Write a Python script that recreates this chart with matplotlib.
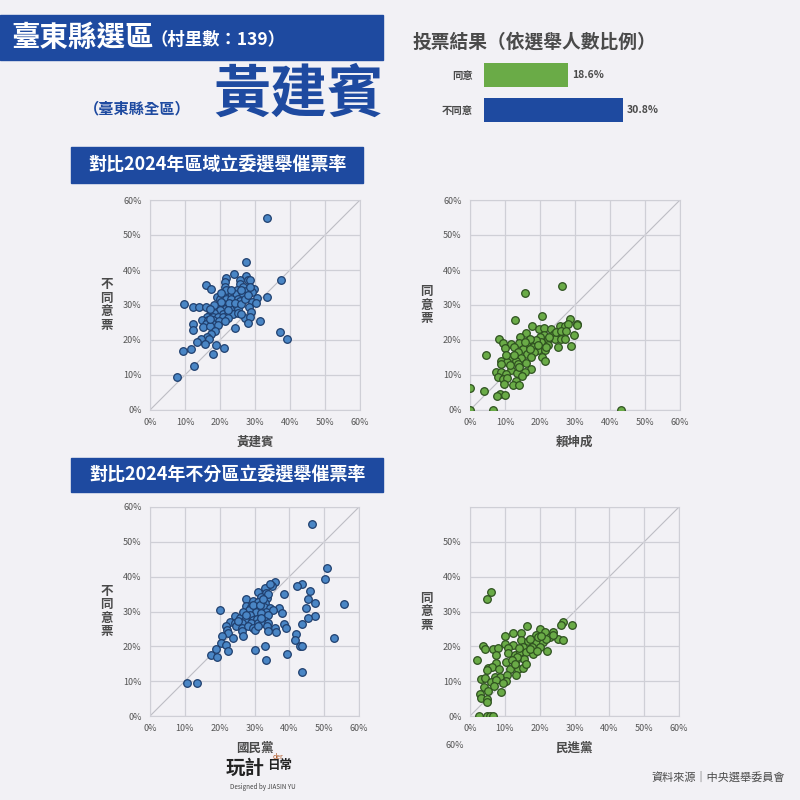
import numpy as np
import matplotlib.pyplot as plt
from matplotlib.patches import Rectangle

plt.rcParams['font.family'] = ['Noto Sans CJK TC', 'DejaVu Sans']

# 投票結果
vote_labels = ['同意', '不同意']
vote_values = [18.6, 30.8]

# 區域立委: 黃建賓 vs 不同意票
s1_x = [33.5, 27.3, 24.0, 21.8, 27.5, 28.0, 28.6, 21.4, 16.0, 17.5, 21.4, 37.5, 29.7, 25.6, 25.8,
        26.6, 24.9, 27.5, 29.2, 26.6, 24.2, 22.7, 21.1, 19.1, 19.9, 21.8, 23.2, 25.1, 30.7, 33.4,
        25.6, 29.1, 9.6, 12.2, 14.1, 15.9, 19.6, 20.8, 22.3, 23.7, 28.3, 21.3, 22.9, 25.1, 18.4,
        19.9, 17.0, 18.4, 20.8, 22.3, 23.7, 25.1, 28.9, 16.3, 17.9, 19.4, 20.8, 22.3, 27.0, 28.5,
        14.9, 16.5, 17.9, 19.7, 31.3, 28.0, 12.2, 16.0, 17.9, 19.4, 15.1, 17.0, 24.2, 12.2, 18.7,
        17.3, 16.2, 16.8, 14.6, 13.5, 15.6, 18.9, 37.1, 39.1, 9.4, 11.6, 21.1, 17.9, 12.5, 7.6,
        20.3, 18.4, 22.7, 24.2, 26.1, 27.0, 28.0, 26.1, 28.5, 21.8, 23.2, 20.3, 30.4, 17.0, 21.3,
        17.0, 22.3, 26.1]
s1_y = [54.8, 42.3, 39.0, 37.6, 38.4, 37.2, 37.1, 36.5, 35.7, 34.7, 35.1, 37.1, 34.6, 37.1, 35.9,
        35.1, 34.2, 33.9, 33.6, 33.0, 33.2, 32.8, 32.9, 32.3, 31.8, 31.8, 31.8, 31.8, 32.1, 32.3,
        31.2, 30.8, 30.2, 29.4, 29.5, 29.5, 29.6, 30.4, 29.9, 29.9, 29.4, 28.9, 28.9, 28.9, 28.5,
        28.5, 27.5, 27.7, 27.5, 27.3, 27.5, 27.7, 28.0, 26.7, 26.7, 26.6, 26.6, 26.4, 26.4, 26.6,
        25.6, 25.6, 25.6, 25.4, 25.3, 24.8, 24.6, 24.6, 24.6, 24.2, 23.7, 23.9, 23.4, 22.9, 22.7,
        21.6, 20.8, 20.3, 20.2, 19.4, 18.9, 18.7, 22.3, 20.2, 16.9, 17.3, 17.8, 16.0, 12.6, 9.4,
        30.9, 29.9, 30.6, 30.6, 30.4, 31.8, 32.8, 34.2, 35.1, 34.2, 34.2, 33.5, 30.6, 26.1, 25.3,
        28.9, 28.5, 27.5]

# 區域立委: 賴坤成 vs 同意票
s2_x = [26.4, 15.8, 20.6, 12.9, 28.5, 30.7, 30.7, 17.8, 19.7, 21.0, 23.2, 25.6, 27.0, 27.9, 16.0,
        21.0, 23.9, 25.1, 26.6, 29.6, 14.3, 8.4, 9.4, 19.9, 22.3, 24.2, 26.1, 27.0, 11.8, 14.1,
        16.5, 18.4, 20.3, 22.3, 25.1, 28.9, 10.0, 12.7, 15.1, 17.9, 19.4, 21.3, 4.6, 13.7, 16.2,
        18.4, 20.6, 11.8, 14.6, 17.5, 8.9, 10.5, 13.0, 21.3, 8.9, 13.7, 16.0, 11.8, 17.5, 15.8,
        7.4, 8.9, 10.3, 13.4, 14.9, 7.9, 9.4, 10.5, 13.0, 9.6, 12.2, 14.0, 4.1, 8.6, 7.7,
        10.1, 0.0, 0.0, 6.7, 43.0, 22.7, 18.9, 17.0, 11.3, 14.1, 19.4, 21.8, 24.6, 26.1, 27.5,
        17.0, 15.6, 10.3, 12.7]
s2_y = [35.5, 33.5, 26.9, 25.8, 26.1, 24.6, 24.2, 24.0, 23.2, 23.5, 23.2, 23.9, 23.9, 24.6, 22.0,
        21.3, 21.8, 22.0, 21.8, 21.5, 20.8, 20.2, 19.1, 20.8, 20.3, 20.3, 20.3, 20.2, 18.9, 19.1,
        18.7, 18.9, 19.4, 18.7, 18.0, 18.4, 17.8, 18.0, 17.5, 18.0, 17.2, 17.2, 15.8, 16.5, 16.0,
        16.5, 15.1, 15.1, 14.8, 15.1, 13.9, 13.7, 14.1, 13.9, 13.0, 13.0, 13.4, 11.3, 11.6, 10.8,
        10.8, 10.8, 10.3, 10.5, 9.8, 9.4, 8.9, 9.2, 8.4, 7.4, 7.0, 7.2, 5.3, 4.6, 3.9,
        4.3, 6.3, 0.1, 0.1, 0.1, 20.8, 19.9, 17.5, 12.8, 12.2, 18.6, 18.0, 22.3, 22.7, 22.7,
        20.3, 19.4, 15.6, 15.6]

# 不分區立委: 國民黨 vs 不同意票
s3_x = [46.6, 50.7, 50.3, 43.5, 42.3, 35.8, 35.0, 32.9, 34.4, 46.0, 38.4, 31.0, 33.4, 32.0, 33.7,
        27.7, 45.4, 47.5, 55.6, 29.6, 31.0, 32.9, 27.7, 29.1, 31.0, 32.7, 34.4, 37.0, 44.9, 20.2,
        28.5, 30.4, 33.4, 35.3, 38.0, 26.7, 28.7, 32.0, 33.9, 47.3, 24.5, 25.8, 27.2, 29.6, 30.6,
        32.9, 45.3, 23.1, 24.4, 26.3, 29.1, 31.0, 32.5, 33.9, 38.4, 43.7, 24.8, 26.3, 28.2, 29.6,
        33.6, 35.8, 39.0, 21.8, 22.2, 30.1, 26.3, 33.9, 36.3, 22.4, 20.8, 26.7, 42.0, 23.7, 52.7,
        41.5, 20.5, 21.9, 32.9, 43.0, 43.7, 18.9, 22.4, 30.1, 17.4, 19.1, 39.4, 33.2, 43.5, 10.5,
        13.4, 29.6, 31.5, 26.7, 32.0, 27.7, 25.3, 31.0, 33.9, 32.5]
s3_y = [55.0, 42.6, 39.3, 37.8, 37.2, 38.4, 37.2, 36.7, 37.8, 36.0, 35.1, 35.5, 35.2, 34.3, 33.8,
        33.6, 33.6, 32.4, 32.1, 32.9, 32.7, 32.4, 31.7, 31.4, 31.1, 31.4, 30.9, 31.1, 30.9, 30.4,
        30.5, 30.0, 30.0, 30.3, 29.5, 28.8, 29.0, 29.5, 29.0, 28.8, 28.6, 28.1, 27.6, 27.6, 27.9,
        27.3, 28.1, 27.1, 26.6, 26.6, 26.6, 26.6, 26.6, 26.6, 26.5, 26.5, 25.7, 25.2, 25.7, 25.2,
        25.9, 25.2, 25.4, 25.7, 24.7, 24.6, 24.3, 24.5, 24.0, 23.8, 23.1, 23.1, 23.5, 22.5, 22.5,
        21.7, 20.9, 20.4, 20.2, 20.2, 20.2, 19.3, 18.8, 19.0, 17.4, 16.9, 17.9, 16.1, 12.6, 9.5,
        9.4, 32.0, 32.0, 30.0, 28.1, 29.0, 27.3, 25.7, 34.9, 33.6]

# 不分區立委: 民進黨 vs 同意票
s4_x = [5.9, 4.8, 29.3, 26.6, 26.1, 16.5, 20.1, 21.5, 23.9, 12.4, 14.6, 10.0, 18.9, 22.9, 25.3,
        26.7, 14.5, 16.7, 18.9, 21.0, 10.0, 12.4, 3.6, 4.3, 6.5, 8.1, 11.0, 15.3, 17.7, 20.1,
        22.2, 7.6, 11.0, 12.9, 14.3, 16.2, 18.1, 1.9, 7.4, 10.3, 13.2, 15.6, 5.3, 6.2, 5.0,
        8.4, 11.5, 13.8, 15.1, 3.1, 4.3, 7.2, 8.6, 10.5, 13.1, 5.9, 7.6, 10.3, 9.4, 4.0,
        6.9, 5.3, 8.8, 2.9, 3.3, 4.8, 4.8, 2.7, 5.0, 5.7, 6.5, 17.2, 19.5, 21.8, 23.7,
        17.2, 19.1, 13.6, 12.0, 16.2, 12.9, 14.1, 20.5]
s4_y = [35.5, 33.5, 26.0, 26.9, 26.0, 25.7, 25.0, 24.2, 24.0, 23.8, 23.8, 23.1, 23.3, 22.6, 22.0,
        21.7, 21.9, 21.4, 21.2, 21.2, 20.7, 20.5, 20.1, 19.1, 19.1, 19.5, 19.5, 19.8, 19.8, 19.8,
        18.6, 17.6, 18.1, 17.4, 18.3, 18.3, 17.9, 16.0, 15.3, 15.5, 16.0, 16.4, 13.9, 14.1, 13.3,
        13.6, 13.6, 13.6, 13.9, 10.7, 10.9, 11.2, 11.2, 11.9, 11.9, 9.8, 10.3, 10.0, 9.6, 8.4,
        8.7, 7.1, 6.9, 6.3, 5.3, 4.8, 4.1, 0.1, 0.1, 0.1, 0.1, 22.1, 22.6, 22.1, 23.3,
        19.1, 18.8, 16.8, 16.0, 15.0, 15.0, 19.4, 23.0]

BG = '#F2F1F5'
NAVY = '#1E4AA0'
GREEN = '#6AAB47'
TXT = '#4A4A4A'


def scatter_panel(fig, rect, xs, ys, face, edge, xlabel, ylabel, show_top=True):
    ax = fig.add_axes(rect)
    ax.set_facecolor(BG)
    ax.plot([0, 60], [0, 60], color='#BDBDC4', lw=0.8, zorder=1)
    ax.scatter(xs, ys, s=30, c=face, edgecolors=edge, linewidths=0.9, zorder=3)
    ax.set_xlim(0, 60)
    ax.set_ylim(0, 60)
    ticks = np.arange(0, 61, 10)
    ax.set_xticks(ticks)
    ax.set_yticks(ticks)
    ax.set_xticklabels([f'{t}%' for t in ticks])
    ylabs = [f'{t}%' for t in ticks]
    if not show_top:
        ylabs[-1] = ''
    ax.set_yticklabels(ylabs)
    ax.tick_params(length=0, labelsize=6.5, colors='#555555', pad=6)
    ax.grid(True, color='#CFCFD6', lw=0.9, zorder=0)
    for sp in ax.spines.values():
        sp.set_color('#CFCFD6')
    ax.set_xlabel(xlabel, fontsize=9, fontweight='bold', color=TXT, labelpad=6)
    ax.set_ylabel('\n'.join(ylabel), fontsize=9, fontweight='bold', color=TXT,
                  rotation=0, va='center', ha='center', labelpad=12, linespacing=1.05)
    return ax


fig = plt.figure(figsize=(8, 8), dpi=100)
fig.patch.set_facecolor(BG)

# header banner
fig.patches.append(Rectangle((0, 1 - 60 / 800), 383 / 800, 45 / 800, transform=fig.transFigure,
                             color=NAVY, zorder=0))
fig.text(11 / 800, 1 - 38 / 800, '臺東縣選區', fontsize=20.5, fontweight='bold', color='white', va='center')
fig.text(150 / 800, 1 - 40 / 800, '（村里數：139）', fontsize=12.5, fontweight='bold', color='white',
         va='center')
fig.text(137 / 800, 1 - 108 / 800, '（臺東縣全區）', fontsize=11, fontweight='bold', color=NAVY,
         va='center', ha='center')
fig.text(213 / 800, 1 - 95 / 800, '黃建賓', fontsize=41, fontweight='heavy', color=NAVY, va='center')

# vote result bars
fig.text(413 / 800, 1 - 42 / 800, '投票結果（依選舉人數比例）', fontsize=13.5, fontweight='bold',
         color=TXT, va='center')
axb = fig.add_axes([484 / 800, 1 - 127 / 800, 180 / 800, 69 / 800])
axb.set_facecolor('none')
axb.barh([0, 1], vote_values, height=0.69, color=[GREEN, NAVY])
axb.set_xlim(0, 40)
axb.set_ylim(1.486, -0.486)
axb.set_yticks([0, 1])
axb.set_yticklabels(vote_labels, fontsize=7.5, fontweight='bold', color=TXT)
axb.set_xticks([])
axb.tick_params(length=0, pad=8)
for sp in axb.spines.values():
    sp.set_visible(False)
for i, v in enumerate(vote_values):
    axb.text(v + 1, i, f'{v}%', va='center', ha='left', fontsize=7.5, fontweight='bold', color=TXT)

# section headers
fig.patches.append(Rectangle((71 / 800, 1 - 183 / 800), 292 / 800, 36 / 800, transform=fig.transFigure,
                             color=NAVY, zorder=0))
fig.text(217 / 800, 1 - 165 / 800, '對比2024年區域立委選舉催票率', fontsize=13, fontweight='bold',
         color='white', va='center', ha='center')
fig.patches.append(Rectangle((71 / 800, 1 - 492 / 800), 312 / 800, 34 / 800, transform=fig.transFigure,
                             color=NAVY, zorder=0))
fig.text(227 / 800, 1 - 475 / 800, '對比2024年不分區立委選舉催票率', fontsize=13, fontweight='bold',
         color='white', va='center', ha='center')

blue_face, blue_edge = '#4A86C5', '#1F3F6E'
green_face, green_edge = '#6AAB47', '#2F5220'

scatter_panel(fig, [150 / 800, 1 - 410 / 800, 210 / 800, 210 / 800], s1_x, s1_y,
              blue_face, blue_edge, '黃建賓', '不同意票')
scatter_panel(fig, [470 / 800, 1 - 410 / 800, 210 / 800, 210 / 800], s2_x, s2_y,
              green_face, green_edge, '賴坤成', '同意票')
scatter_panel(fig, [150 / 800, 1 - 716 / 800, 209 / 800, 209 / 800], s3_x, s3_y,
              blue_face, blue_edge, '國民黨', '不同意票')
scatter_panel(fig, [470 / 800, 1 - 716 / 800, 209 / 800, 209 / 800], s4_x, s4_y,
              green_face, green_edge, '民進黨', '同意票', show_top=False)
fig.text(455 / 800, 1 - 745 / 800, '60%', fontsize=6.5, color='#555555', va='center', ha='center')

# logo and source
fig.text(245 / 800, 1 - 768 / 800, '玩計', fontsize=14, fontweight='heavy', color='#222222',
         va='center', ha='center', style='italic')
fig.text(280 / 800, 1 - 766 / 800, '日常', fontsize=9, fontweight='bold', color='#222222',
         va='center', ha='center')
fig.text(278 / 800, 1 - 757 / 800, 'der', fontsize=5, color='#B05A2A', va='center', ha='center')
fig.text(263 / 800, 1 - 787 / 800, 'Designed by JIASIN YU', fontsize=4.5, color='#444444',
         va='center', ha='center')
fig.text(785 / 800, 1 - 777 / 800, '資料來源｜中央選舉委員會', fontsize=8, color=TXT,
         va='center', ha='right')

fig.savefig('out.png', dpi=100, facecolor=BG)
